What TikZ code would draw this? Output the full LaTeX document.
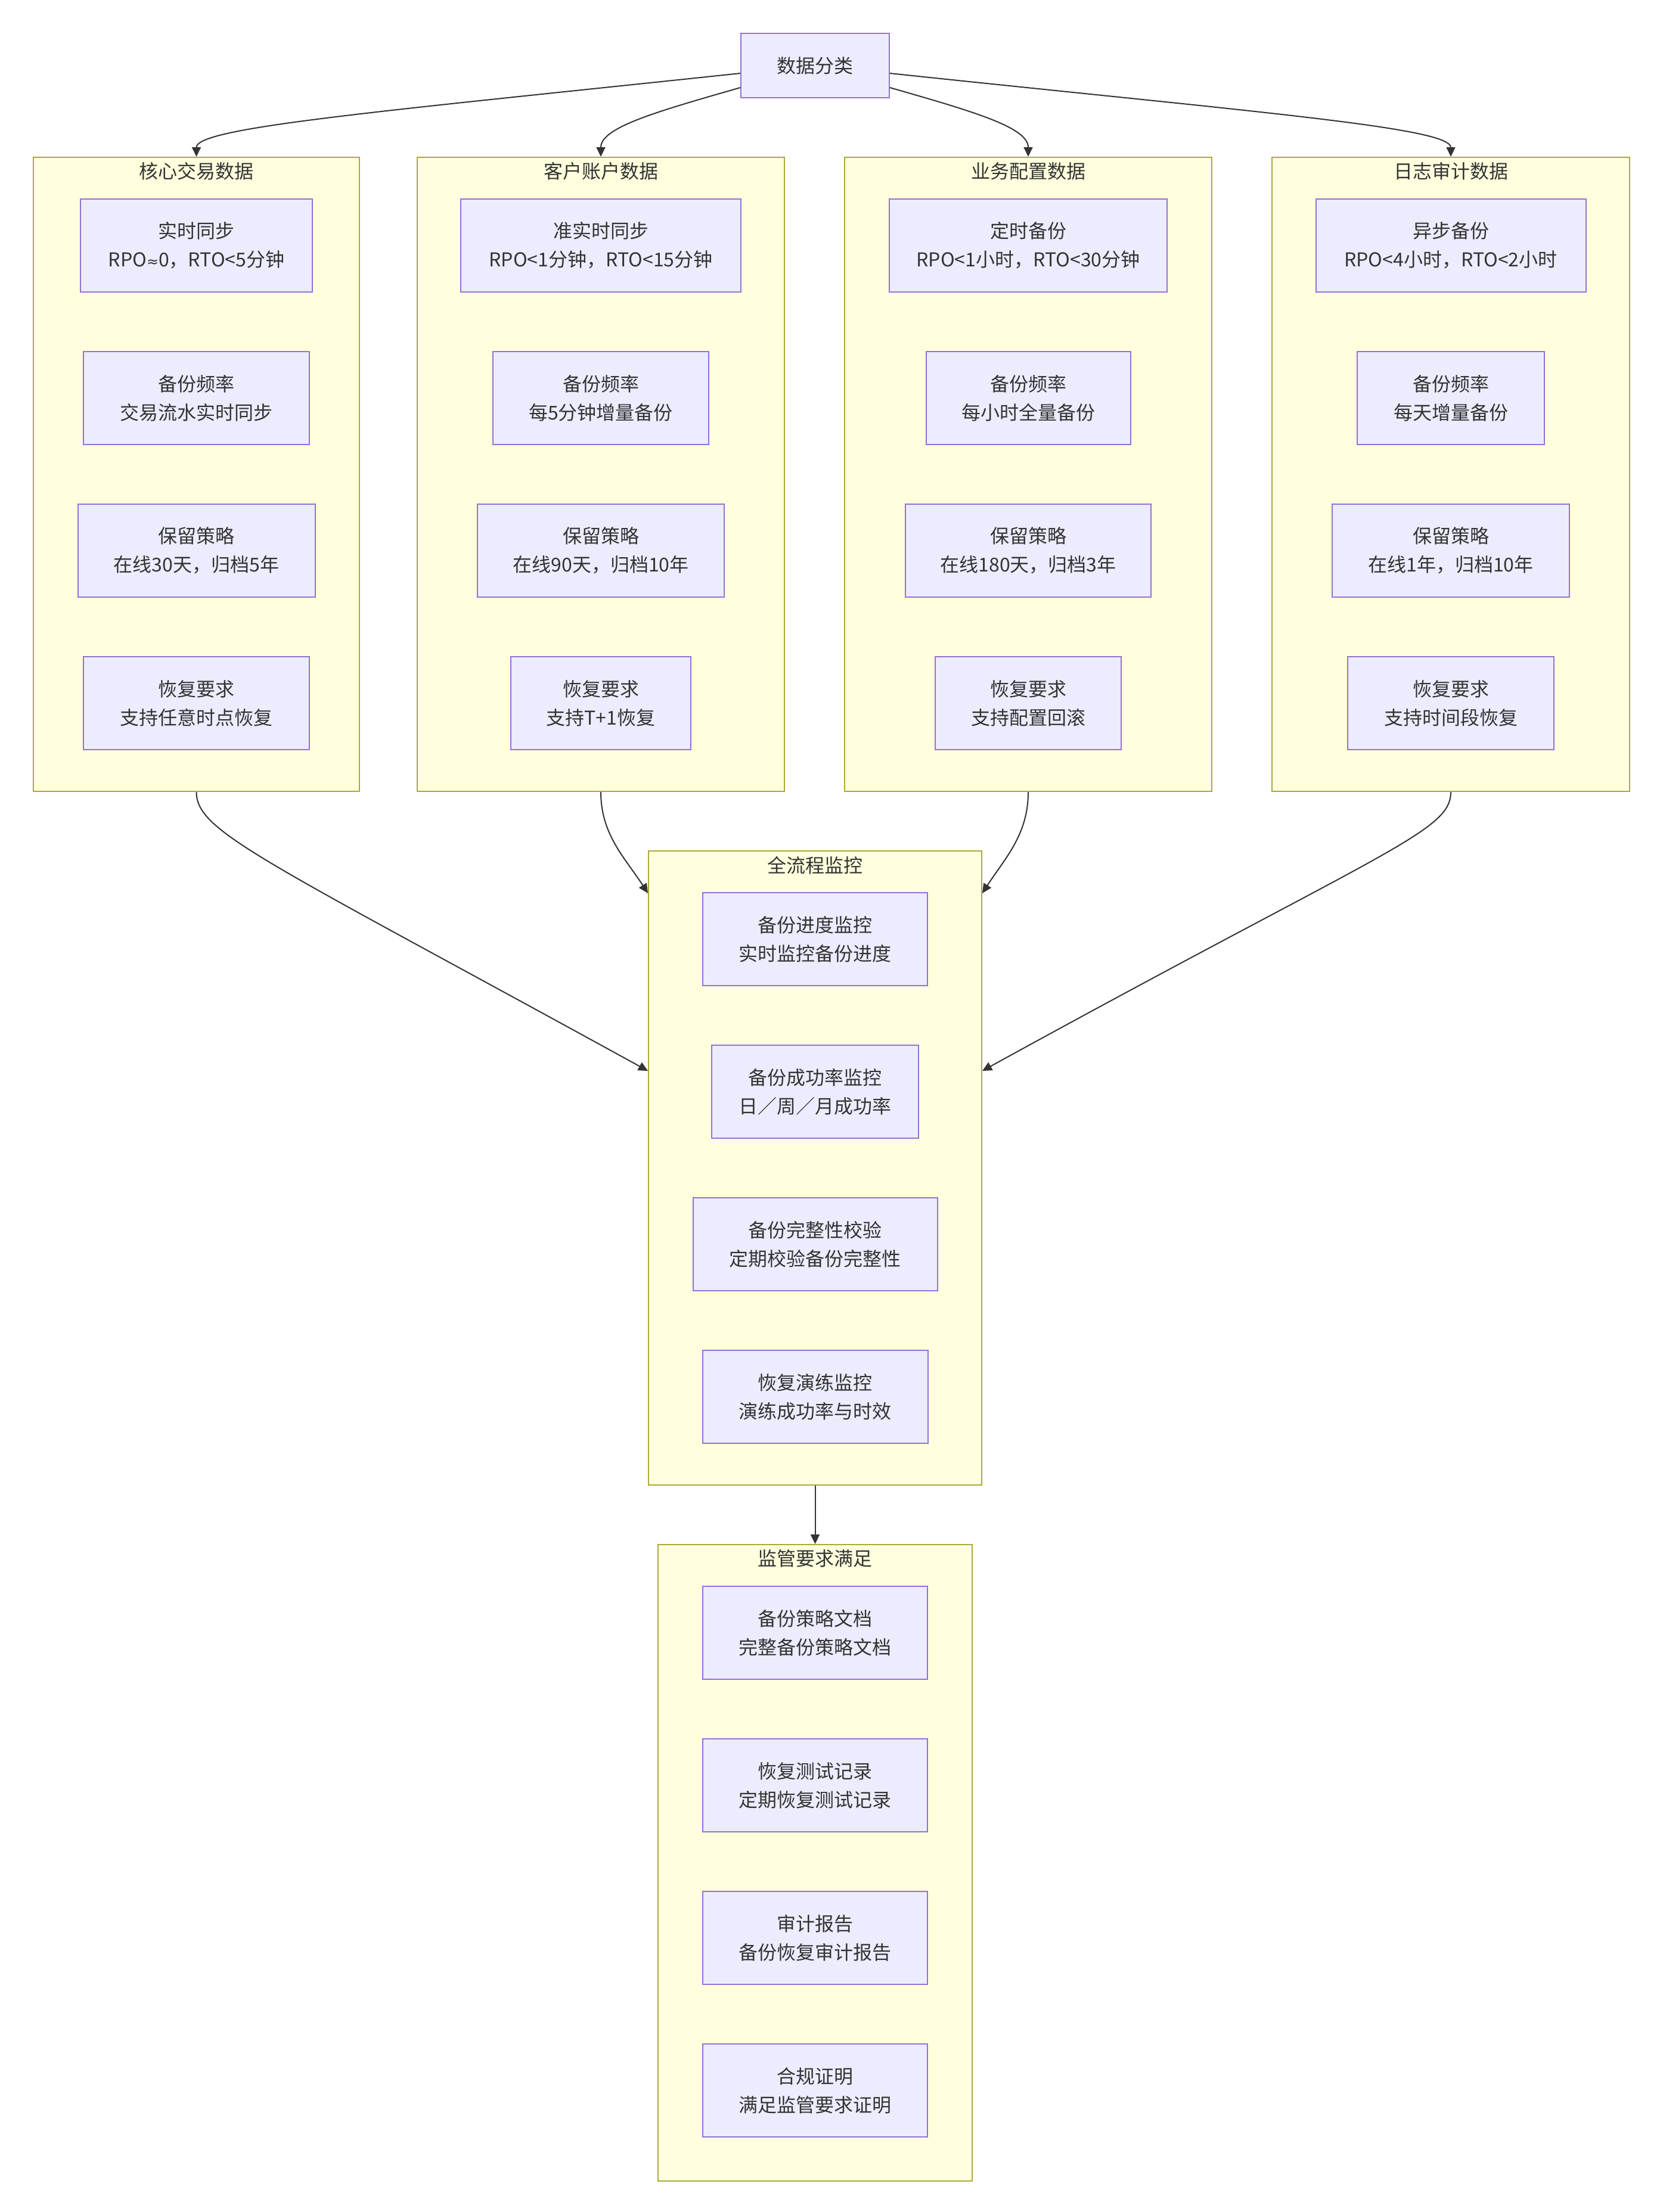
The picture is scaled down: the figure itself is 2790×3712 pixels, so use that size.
\documentclass[tikz,border=0pt]{standalone}
\usepackage{fontspec}
\setmainfont{Noto Sans CJK SC}
\newfontfamily\symfont{DejaVu Sans}
\usetikzlibrary{arrows.meta,calc}
\definecolor{nodefill}{HTML}{ECECFF}
\definecolor{nodeborder}{HTML}{9370DB}
\definecolor{clfill}{HTML}{FFFFDE}
\definecolor{clborder}{HTML}{AAAA33}
\definecolor{txt}{HTML}{333333}
\definecolor{edgec}{HTML}{333333}
\begin{document}
\begin{tikzpicture}[x=0.5pt,y=-0.5pt,
  box/.style={draw=nodeborder,fill=nodefill,line width=1pt,minimum height=78pt,inner sep=0pt,align=center,text=txt,font=\fontsize{16pt}{24pt}\selectfont},
  wd/.style={minimum width=#1*0.5pt},
  cluster/.style 2 args={draw=clborder,fill=clfill,line width=1pt,inner sep=0pt,minimum width=#1*0.5pt,minimum height=#2*0.5pt},
  cltitle/.style={inner sep=0pt,text=txt,font=\fontsize{16pt}{24pt}\selectfont},
  conn/.style={draw=edgec,line width=1pt,-{Triangle[length=8pt,width=7.5pt]}}
]
\fill[white] (0,0) rectangle (2790,3712);
\useasboundingbox (0,0) rectangle (2790,3712);

% clusters
\node[cluster={547}{1064}] (c1) at (329.5,796) {};
\node[cluster={616}{1064}] (c2) at (1008,796) {};
\node[cluster={616}{1064}] (c3) at (1725,796) {};
\node[cluster={600}{1064}] (c4) at (2434,796) {};
\node[cluster={559}{1064}] (mon) at (1367.5,1960) {};
\node[cluster={527}{1068}] (reg) at (1367.5,3126) {};

\node[cltitle] (t1) at (329.5,287) {核心交易数据};
\node[cltitle] (t2) at (1008,287) {客户账户数据};
\node[cltitle] (t3) at (1725,287) {业务配置数据};
\node[cltitle] (t4) at (2434,287) {日志审计数据};
\node[cltitle] (tm) at (1367.5,1452) {全流程监控};
\node[cltitle] (tr) at (1367.5,2615) {监管要求满足};

% top node
\node[box,wd=249,minimum height=54pt] (dc) at (1367.5,110) {数据分类};

% cluster 1
\node[box,wd=389] (a1) at (329.5,412) {实时同步\\RPO{\symfont\fontsize{12pt}{24pt}\selectfont ≈}0，RTO<5分钟};
\node[box,wd=379] (a2) at (329.5,668) {备份频率\\交易流水实时同步};
\node[box,wd=398] (a3) at (329.5,924) {保留策略\\在线30天，归档5年};
\node[box,wd=379] (a4) at (329.5,1180) {恢复要求\\支持任意时点恢复};

% cluster 2
\node[box,wd=470] (b1) at (1008,412) {准实时同步\\RPO<1分钟，RTO<15分钟};
\node[box,wd=362] (b2) at (1008,668) {备份频率\\每5分钟增量备份};
\node[box,wd=414] (b3) at (1008,924) {保留策略\\在线90天，归档10年};
\node[box,wd=302] (b4) at (1008,1180) {恢复要求\\支持T+1恢复};

% cluster 3
\node[box,wd=466] (d1) at (1725,412) {定时备份\\RPO<1小时，RTO<30分钟};
\node[box,wd=343] (d2) at (1725,668) {备份频率\\每小时全量备份};
\node[box,wd=412] (d3) at (1725,924) {保留策略\\在线180天，归档3年};
\node[box,wd=312] (d4) at (1725,1180) {恢复要求\\支持配置回滚};

% cluster 4
\node[box,wd=453] (e1) at (2434,412) {异步备份\\RPO<4小时，RTO<2小时};
\node[box,wd=314] (e2) at (2434,668) {备份频率\\每天增量备份};
\node[box,wd=398] (e3) at (2434,924) {保留策略\\在线1年，归档10年};
\node[box,wd=346] (e4) at (2434,1180) {恢复要求\\支持时间段恢复};

% monitoring
\node[box,wd=377] (m1) at (1367.5,1576) {备份进度监控\\实时监控备份进度};
\node[box,wd=347] (m2) at (1367.5,1832) {备份成功率监控\\日／周／月成功率};
\node[box,wd=410] (m3) at (1367.5,2088) {备份完整性校验\\定期校验备份完整性};
\node[box,wd=378] (m4) at (1367.5,2344) {恢复演练监控\\演练成功率与时效};

% regulatory
\node[box,wd=377] (r1) at (1367.5,2740) {备份策略文档\\完整备份策略文档};
\node[box,wd=377] (r2) at (1367.5,2996) {恢复测试记录\\定期恢复测试记录};
\node[box,wd=377] (r3) at (1367.5,3252) {审计报告\\备份恢复审计报告};
\node[box,wd=377] (r4) at (1367.5,3508) {合规证明\\满足监管要求证明};

% edges from top node
\draw[conn] ($(dc.west)+(0,13)$) .. controls +(-623,66) and +(0,-49) .. (c1.north);
\draw[conn] ($(dc.west)+(0,37)$) .. controls +(-143,41) and +(0,-49) .. (c2.north);
\draw[conn] ($(dc.east)+(0,37)$) .. controls +(143,41) and +(0,-49) .. (c3.north);
\draw[conn] ($(dc.east)+(0,13)$) .. controls +(623,66) and +(0,-49) .. (c4.north);

% edges into monitoring
\draw[conn] (c1.south) .. controls +(0,67) and +(-648,-356) .. ($(mon.west)+(0,-163)$);
\draw[conn] (c2.south) .. controls +(0,72) and +(-38,-59) .. ($(mon.west)+(0,-461)$);
\draw[conn] (c3.south) .. controls +(0,72) and +(38,-59) .. ($(mon.east)+(0,-461)$);
\draw[conn] (c4.south) .. controls +(0,67) and +(678,-373) .. ($(mon.east)+(0,-163)$);

% monitoring to regulatory
\draw[conn] (mon.south) -- (reg.north);
\end{tikzpicture}
\end{document}
